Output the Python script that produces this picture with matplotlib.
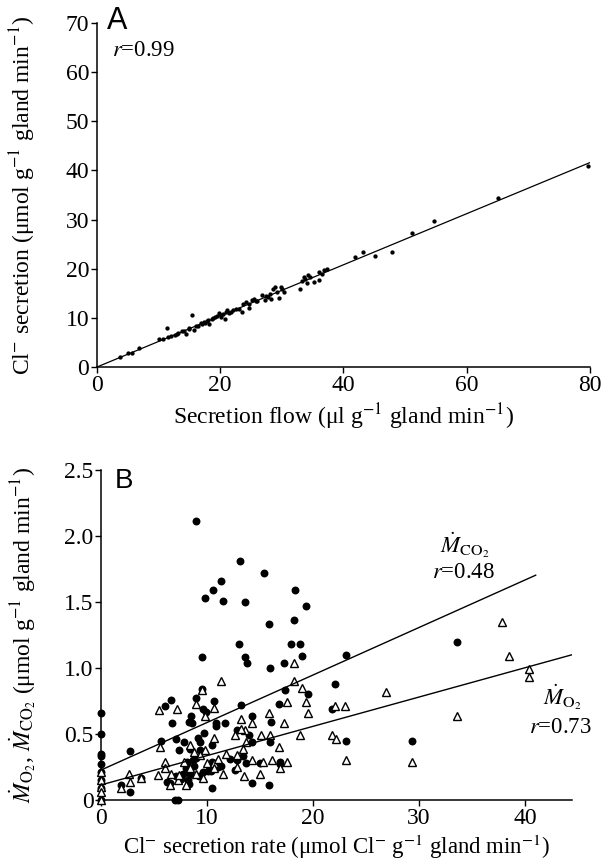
import numpy as np
import matplotlib
matplotlib.use("Agg")
import matplotlib.pyplot as plt

plt.rcParams["font.family"] = ["Liberation Serif", "DejaVu Serif"]
plt.rcParams["mathtext.fontset"] = "stix"

# Panel A: secretion flow vs Cl- secretion
flow_a = [3.8, 5.0, 5.7, 6.8, 10.1, 10.7, 11.4, 11.6, 12.6, 13.2, 13.8, 14.5, 14.9,
          15.4, 15.7, 16.4, 17.0, 17.3, 17.9, 18.2, 18.6, 19.2, 19.8, 20.1, 20.8,
          21.1, 21.7, 22.5, 23.5, 23.7, 24.2, 24.7, 25.2, 25.5, 26.7, 27.2, 27.7,
          28.3, 28.6, 28.9, 29.6, 29.9, 30.4, 32.9, 33.2, 33.6, 34.2, 34.1, 35.2,
          36.0, 36.1, 36.8, 37.3, 41.9, 43.2, 45.1, 47.8, 51.1, 54.7, 65.0, 79.7,
          16.0, 16.8, 18.0, 19.5, 20.4, 21.5, 22.0, 24.6, 26.0, 27.5, 29.2, 30.0,
          12.0, 13.0, 14.2, 15.0, 17.6, 18.9, 20.2, 21.0, 23.0, 25.8, 28.0, 33.8,
          34.6, 36.5]
cl_a = [2.0, 2.8, 2.9, 3.9, 5.6, 5.6, 7.9, 6.1, 6.6, 7.0, 7.3, 6.8, 7.8,
        10.65, 7.5, 8.3, 8.7, 9.2, 9.3, 8.8, 9.8, 10.2, 10.9, 10.2, 9.8,
        11.5, 11.2, 11.9, 11.2, 12.9, 13.2, 12.1, 13.6, 13.9, 14.6, 13.7, 14.2,
        13.9, 15.9, 16.3, 14.0, 16.3, 15.3, 15.9, 17.6, 18.3, 18.7, 17.1, 17.3,
        17.8, 19.3, 19.8, 20.0, 22.4, 23.4, 22.5, 23.4, 27.3, 29.8, 34.3, 41.0,
        8.4, 8.9, 9.6, 10.3, 10.8, 11.0, 11.6, 12.9, 13.5, 14.4, 15.2, 15.8,
        6.3, 6.8, 7.4, 7.9, 9.0, 9.9, 10.5, 11.2, 11.8, 13.4, 14.8, 18.0,
        18.4, 19.0]
fit_a = (0.52, 0.0)  # slope, intercept

# Panel B: Cl- secretion rate vs MCO2 (circles) and MO2 (triangles)
cl_co2 = [9.0, 13.1, 15.4, 11.3, 10.6, 9.8, 11.5, 13.6, 18.3, 19.3, 18.2, 15.8, 13.0,
          17.9, 18.8, 9.5, 13.6, 13.8, 19.0, 17.3, 15.9, 23.1, 33.6, 22.1, 9.5, 17.4,
          19.5, 6.6, 6.0, 9.0, 10.7, 9.6, 9.9, 16.8, 13.2, 21.8, 0.0, 8.5, 8.3, 8.6,
          6.7, 10.8, 10.8, 11.7, 14.2, 16.0, 0.0, 9.7, 9.1, 7.1, 5.7, 7.8, 9.3, 10.5,
          12.8, 14.0, 14.2, 15.9, 23.1, 29.3, 2.7, 7.4, 8.4, 9.3, 0.0, 0.0, 0.0, 0.0,
          0.0, 0.0, 0.0, 8.1, 8.7, 9.0, 10.5, 10.9, 12.8, 13.7, 15.0, 16.9, 16.9, 12.6,
          10.4, 7.7, 7.1, 6.2, 1.9, 3.8, 2.7, 10.5, 14.2, 15.8, 7.0, 7.3, 8.2, 8.4,
          6.5, 7.5, 8.0, 8.8, 9.6, 11.0, 12.2, 13.4, 8.3, 9.2, 10.1, 11.3]
m_co2 = [2.11, 1.81, 1.72, 1.66, 1.59, 1.53, 1.51, 1.50, 1.59, 1.47, 1.36, 1.33, 1.18,
         1.18, 1.18, 1.08, 1.08, 1.04, 1.09, 1.04, 1.00, 1.10, 1.20, 0.88, 0.84, 0.83,
         0.80, 0.76, 0.71, 0.77, 0.75, 0.69, 0.67, 0.73, 0.72, 0.69, 0.66, 0.64, 0.59, 0.58,
         0.58, 0.58, 0.56, 0.58, 0.64, 0.59, 0.50, 0.51, 0.47, 0.46, 0.45, 0.44, 0.44, 0.42,
         0.53, 0.49, 0.44, 0.44, 0.45, 0.45, 0.37, 0.38, 0.39, 0.38, 0.35, 0.33, 0.27, 0.21,
         0.15, 0.09, 0.0, 0.29, 0.30, 0.32, 0.29, 0.27, 0.30, 0.28, 0.28, 0.29, 0.27, 0.23,
         0.22, 0.20, 0.18, 0.14, 0.11, 0.17, 0.06, 0.09, 0.13, 0.11, 0.0, 0.0, 0.15, 0.20,
         0.13, 0.16, 0.24, 0.26, 0.21, 0.25, 0.31, 0.33, 0.12, 0.18, 0.22, 0.26]

cl_o2 = [18.2, 11.3, 37.8, 38.5, 40.4, 40.4, 26.9, 18.2, 19.0, 9.5, 9.0, 17.5, 19.3,
         5.5, 7.2, 9.8, 10.7, 22.1, 23.0, 19.5, 15.8, 33.6, 13.2, 14.2, 17.3, 12.6,
         13.6, 15.1, 15.9, 18.8, 21.8, 22.2, 10.7, 5.6, 9.8, 11.8, 16.8, 6.0, 17.5,
         16.1, 15.3, 23.1, 29.3, 16.9, 15.0, 13.5, 11.5, 9.6, 0.0, 0.0, 0.0, 0.0,
         2.6, 2.7, 1.9, 3.8, 5.4, 6.0, 6.5, 7.3, 8.0, 8.4, 7.8, 8.4, 9.3, 10.0, 10.7,
         12.8, 13.4, 13.7, 13.2, 6.6, 7.4, 9.0, 10.7, 14.2, 12.8, 0.0, 8.8, 11.0]
m_o2 = [1.04, 0.90, 1.35, 1.09, 0.99, 0.93, 0.82, 0.90, 0.85, 0.83, 0.73, 0.74, 0.74,
        0.68, 0.69, 0.64, 0.70, 0.71, 0.71, 0.66, 0.66, 0.64, 0.61, 0.58, 0.58, 0.49,
        0.53, 0.49, 0.49, 0.49, 0.49, 0.46, 0.47, 0.40, 0.38, 0.35, 0.40, 0.29, 0.29,
        0.30, 0.29, 0.30, 0.29, 0.24, 0.20, 0.18, 0.20, 0.17, 0.21, 0.15, 0.10, 0.06,
        0.20, 0.14, 0.09, 0.17, 0.19, 0.24, 0.11, 0.15, 0.11, 0.24, 0.29, 0.42, 0.34,
        0.28, 0.28, 0.34, 0.39, 0.44, 0.54, 0.20, 0.19, 0.20, 0.24, 0.30, 0.25, 0.0,
        0.36, 0.31]

fit_co2 = (0.036, 0.227)  # slope, intercept
fit_o2 = (0.0222, 0.114)
co2_xmax = 41.0
o2_xmax = 44.4

fig = plt.figure(figsize=(6.05, 8.67), dpi=100)

# ---- Panel A ----
ax1 = fig.add_axes([0.1603, 0.5767, 0.8149, 0.3968])
ax1.plot(flow_a, cl_a, "o", color="black", markersize=3.1, markeredgewidth=0)
xa = np.array([0, 80])
ax1.plot(xa, fit_a[0] * xa + fit_a[1], color="black", linewidth=0.9)
ax1.set_xlim(0, 80)
ax1.set_ylim(0, 70)
ax1.set_xticks([0, 20, 40, 60, 80])
ax1.set_yticks(range(0, 71, 10))
ax1.set_xlabel("Secretion flow (μl g$^{-1}$ gland min$^{-1}$)", fontsize=17, labelpad=4)
ax1.set_ylabel("Cl$^{-}$ secretion (μmol g$^{-1}$ gland min$^{-1}$)", fontsize=17)
ax1.yaxis.set_label_coords(-0.12, 0.5)
ax1.text(1.6, 70.4, "A", fontsize=22, family="Liberation Sans", va="center", ha="left")
ax1.text(2.5, 64.3, "$r$=0.99", fontsize=16.5, va="center", ha="left")

# ---- Panel B ----
ax2 = fig.add_axes([0.167, 0.0773, 0.778, 0.3806])
ax2.plot(cl_co2, m_co2, "o", color="black", markersize=5.7, markeredgewidth=0,
         zorder=3, clip_on=False)
ax2.plot(cl_o2, m_o2, "^", markerfacecolor="white", markeredgecolor="black",
         markersize=6.2, markeredgewidth=1.0, zorder=4, clip_on=False)
xc = np.array([0, co2_xmax])
ax2.plot(xc, fit_co2[0] * xc + fit_co2[1], color="black", linewidth=1.0, zorder=5)
xo = np.array([0, o2_xmax])
ax2.plot(xo, fit_o2[0] * xo + fit_o2[1], color="black", linewidth=1.0, zorder=5)
ax2.set_xlim(0, 44.4)
ax2.set_ylim(0, 2.5)
ax2.set_xticks([0, 10, 20, 30, 40])
ax2.set_yticks([0, 0.5, 1.0, 1.5, 2.0, 2.5])
ax2.set_yticklabels(["0", "0.5", "1.0", "1.5", "2.0", "2.5"])
ax2.set_xlabel("Cl$^{-}$ secretion rate (μmol Cl$^{-}$ g$^{-1}$ gland min$^{-1}$)",
               fontsize=16.5, labelpad=3)
ax2.set_ylabel(r"$\dot{M}_{\mathrm{O}_2}$, $\dot{M}_{\mathrm{CO}_2}$ "
               "(μmol g$^{-1}$ gland min$^{-1}$)", fontsize=17)
ax2.yaxis.set_label_coords(-0.134, 0.5)
ax2.text(1.3, 2.42, "B", fontsize=20, family="Liberation Sans", va="center", ha="left")
ax2.text(34.3, 1.93, r"$\dot{M}_{\mathrm{CO}_2}$", fontsize=16.5, ha="center", va="center")
ax2.text(34.2, 1.72, "$r$=0.48", fontsize=16.5, ha="center", va="center")
ax2.text(43.5, 0.78, r"$\dot{M}_{\mathrm{O}_2}$", fontsize=16.5, ha="center", va="center")
ax2.text(43.3, 0.55, "$r$=0.73", fontsize=16.5, ha="center", va="center")

for ax in (ax1, ax2):
    ax.spines["top"].set_visible(False)
    ax.spines["right"].set_visible(False)
    ax.spines["left"].set_linewidth(1.1)
    ax.spines["bottom"].set_linewidth(1.1)
    ax.tick_params(direction="out", length=4, width=1.0, labelsize=17, pad=1.5)

fig.savefig("out.png", dpi=100)
